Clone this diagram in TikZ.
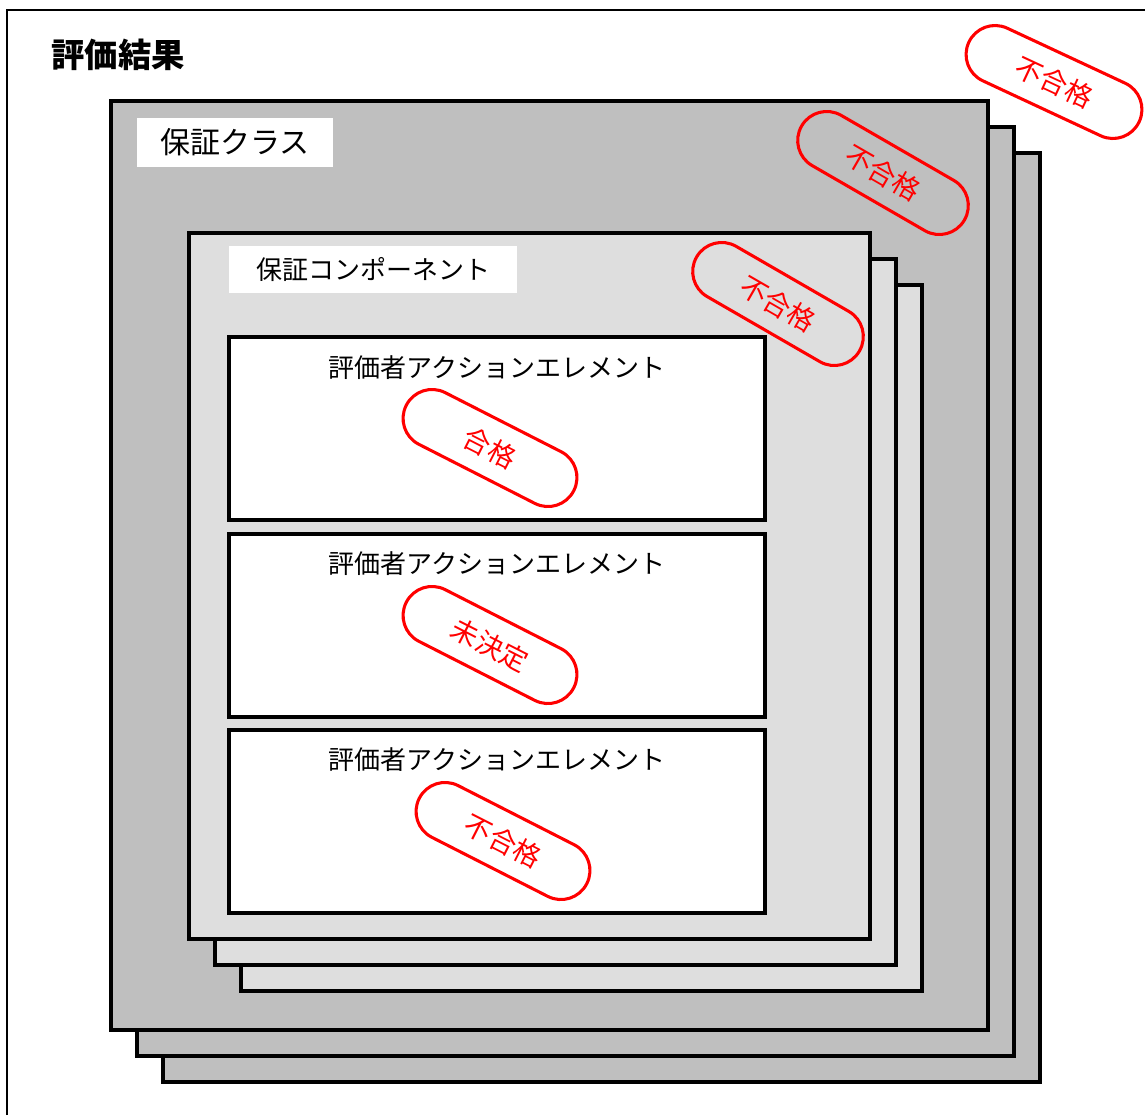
\documentclass[tikz,border=0pt]{standalone}
\usepackage{fontspec}
\setmainfont{Noto Sans CJK JP}
\begin{document}
\begin{tikzpicture}[x=0.75pt,y=-0.75pt,
    classbox/.style={draw,line width=2.3pt,fill=black!25},
    compbox/.style={draw,line width=2.3pt,fill=black!13},
    elembox/.style={draw,line width=2.3pt,fill=white},
    labelbox/.style={fill=white,inner sep=0pt},
    stamp/.style={draw=red,text=red,line width=2.3pt,rounded corners=21.7pt,
      minimum width=141pt,minimum height=43.5pt,font=\fontsize{20.5}{20.5}\selectfont}]
      \useasboundingbox (0,0) rectangle (1145,1115);
      \draw[line width=0.8pt] (7,1115) |- (1145,10);
      % stacked class sheets
      \foreach \d in {52,26,0}
        \draw[classbox] (111+\d,101+\d) rectangle (988+\d,1030+\d);
      % stacked component sheets
      \foreach \d in {52,26,0}
        \draw[compbox] (189+\d,233+\d) rectangle (870+\d,939+\d);
      \foreach \y in {337,534,730}
        \draw[elembox] (229,\y) rectangle (765,\y+183);
      \draw
        (118,55) node[font=\bfseries\fontsize{25}{25}\selectfont] (title){評価結果}
        (235,142.5) node[labelbox,minimum width=147pt,minimum height=37pt,font=\fontsize{22.5}{22.5}\selectfont] (class){保証クラス}
        (373,269.5) node[labelbox,minimum width=216pt,minimum height=35pt,font=\fontsize{19.5}{19.5}\selectfont] (comp){保証コンポーネント}
        (497,368) node[font=\fontsize{19.5}{19.5}\selectfont] (elem1){評価者アクションエレメント}
        (497,564) node[font=\fontsize{19.5}{19.5}\selectfont] (elem2){評価者アクションエレメント}
        (497,760) node[font=\fontsize{19.5}{19.5}\selectfont] (elem3){評価者アクションエレメント};
      \begin{scope}[every node/.append style={stamp}]
        \node[rotate=-25] (resultstamp) at (1054,82) {不合格};
        \node[rotate=-30] (classstamp) at (883,173) {不合格};
        \node[rotate=-30] (compstamp) at (778,304) {不合格};
        \node[rotate=-27] (elemstamp1) at (490,448) {合格};
        \node[rotate=-27] (elemstamp2) at (490,645) {未決定};
        \node[rotate=-27] (elemstamp3) at (503,841) {不合格};
      \end{scope}
    \end{tikzpicture}
\end{document}
